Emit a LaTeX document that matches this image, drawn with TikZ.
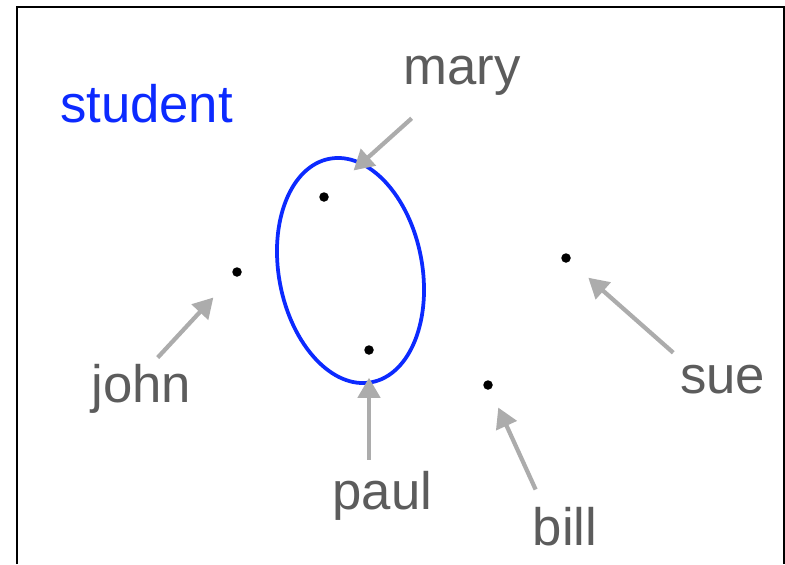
\documentclass[tikz,border=0pt]{standalone}
\usepackage{fontspec}
\setsansfont{Liberation Sans}
\usetikzlibrary{arrows.meta}

\definecolor{setblue}{RGB}{12,42,255}
\definecolor{lblgray}{RGB}{92,92,92}
\definecolor{ptrgray}{RGB}{172,172,172}

\begin{document}
\begin{tikzpicture}[
    font=\sffamily\fontsize{30}{36}\selectfont,
    % 1. Elements and labels
    elem/.style={circle, fill=black, inner sep=0pt, outer sep=0pt, minimum size=0.19cm},
    lbl/.style={text=lblgray, inner sep=0pt, outer sep=0pt, anchor=base},
    setlbl/.style={text=setblue, inner sep=0pt, outer sep=0pt, anchor=base},
    % 2. Set outline and pointers
    setline/.style={draw=setblue, line width=0.075cm},
    ptr/.style={draw=ptrgray, line width=0.085cm, -{Triangle[length=0.4cm,width=0.44cm]}}
]

% Fixed page size, frame cut off at the bottom
\useasboundingbox (0,0) rectangle (15.7,-11.28);
\draw[line width=0.04cm] (0.34,-11.28) |- (15.68,-0.14) -- (15.68,-11.28);

% ===============================
% Elements of the domain
% ===============================
\node[elem] (d-mary) at (6.48, -3.94) {};
\node[elem] (d-paul) at (7.38, -7.00) {};
\node[elem] (d-john) at (4.74, -5.44) {};
\node[elem] (d-sue)  at (11.32, -5.16) {};
\node[elem] (d-bill) at (9.76, -7.70) {};

% The set 'student' (tilted outline round mary and paul)
\draw[setline, rotate around={10.6:(7.01,-5.41)}] (7.01,-5.41) ellipse (1.434cm and 2.274cm);
\node[setlbl] (student) at (2.93, -2.44) {student};

% ===============================
% Names pointing at the elements
% ===============================
\node[lbl] (mary) at (9.24, -1.68) {mary};
\node[lbl] (john) at (2.83, -8.04) {john};
\node[lbl] (paul) at (7.65, -10.18) {paul};
\node[lbl] (bill) at (11.30, -10.90) {bill};
\node[lbl] (sue)  at (14.45, -7.86) {sue};

\draw[ptr, shorten <=0.7cm, shorten >=0.7cm] (mary.219) -- (d-mary);
\draw[ptr, shorten <=0.17cm, shorten >=0.6cm] (john.67) -- (d-john);
\draw[ptr, shorten <=0.22cm, shorten >=0.46cm] (d-paul |- paul.north) -- (d-paul);
\draw[ptr, shorten <=0.38cm, shorten >=0.4cm] (bill.138) -- (d-bill);
\draw[ptr, shorten <=0.36cm, shorten >=0.5cm] (sue.158) -- (d-sue);

\end{tikzpicture}
\end{document}
